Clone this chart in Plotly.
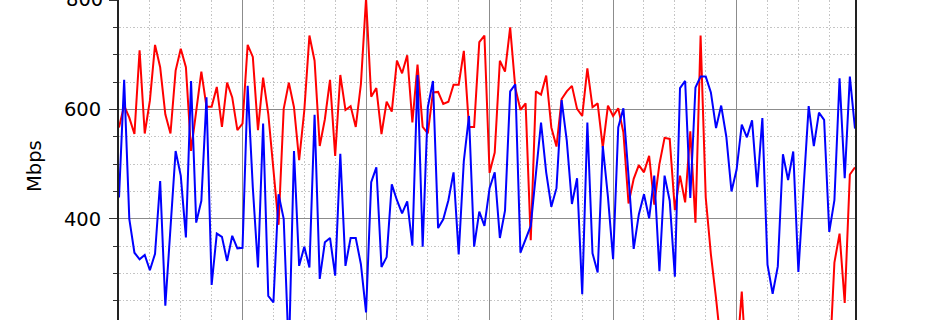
import plotly.graph_objects as go

# Hourly samples (index = hour from start of the window)
hours = list(range(144))

download_red = [
    567, 607, 585, 555, 708, 556, 616, 718, 677, 591, 556, 671, 711, 677, 524, 598, 669, 605, 605, 641, 568, 649, 622, 562,
    574, 718, 696, 562, 658, 592, 492, 389, 601, 649, 604, 507, 598, 735, 689, 533, 582, 654, 515, 663, 599, 606, 568, 646,
    803, 623, 639, 555, 614, 596, 689, 666, 699, 576, 682, 568, 556, 631, 632, 610, 614, 645, 645, 707, 568, 568, 723, 735,
    484, 521, 689, 669, 750, 639, 599, 611, 361, 633, 627, 662, 567, 532, 619, 633, 643, 601, 588, 675, 604, 611, 530, 607,
    588, 602, 558, 428, 473, 498, 485, 515, 426, 500, 548, 546, 416, 479, 430, 560, 393, 735, 439, 335, 255, 165, 140, 130,
    140, 267, 110, 120, 135, 110, 125, 140, 115, 130, 120, 105, 125, 140, 118, 128, 112, 120, 125, 320, 373, 246, 481, 494,
]

upload_blue = [
    439, 654, 400, 338, 326, 334, 306, 336, 469, 241, 383, 524, 479, 366, 652, 393, 433, 622, 279, 373, 367, 323, 369, 346,
    347, 643, 457, 311, 574, 259, 247, 445, 400, 150, 524, 314, 349, 311, 590, 290, 357, 365, 296, 519, 314, 365, 365, 317,
    229, 467, 494, 312, 330, 463, 434, 410, 432, 351, 663, 349, 604, 652, 383, 399, 434, 485, 335, 506, 588, 349, 413, 387,
    456, 485, 365, 415, 633, 646, 338, 363, 387, 482, 576, 485, 422, 456, 617, 543, 427, 474, 262, 576, 337, 302, 533, 440,
    326, 567, 602, 478, 345, 408, 445, 401, 479, 304, 479, 433, 294, 639, 652, 438, 640, 660, 660, 631, 566, 607, 550, 450,
    490, 572, 549, 580, 458, 584, 316, 263, 313, 518, 471, 523, 303, 455, 606, 533, 594, 581, 376, 434, 657, 474, 660, 565,
]

y_tick_values = [400, 600, 800]
y_tick_labels = ["400", "600", "800"]
y_axis_title = "Mbps"

Y_MIN, Y_MAX = 215, 800
FONT = "DejaVu Sans"
DOT = "1.5px,2px"

fig = go.Figure()
fig.add_trace(go.Scatter(x=hours, y=download_red, mode="lines",
                         line=dict(color="#ff0000", width=2), showlegend=False))
fig.add_trace(go.Scatter(x=hours, y=upload_blue, mode="lines",
                         line=dict(color="#0000ff", width=2), showlegend=False))

annotations = [dict(
    text=y_axis_title, textangle=-90, showarrow=False,
    xref="paper", yref="paper", x=0, y=1 - 166 / 320,
    xanchor="center", yanchor="middle", xshift=-85,
    font=dict(family=FONT, size=19.5, color="black"),
)]
# the top tick label sits on the very edge of the plot; Plotly drops it, so draw it as text
for v, lab in zip(y_tick_values, y_tick_labels):
    if v >= Y_MAX:
        annotations.append(dict(
            text=lab, showarrow=False, xref="paper", yref="paper",
            x=0, y=(v - Y_MIN) / (Y_MAX - Y_MIN), xanchor="right", yanchor="middle",
            xshift=-14, yshift=1,
            font=dict(family=FONT, size=19.5, color="black"),
        ))

fig.update_layout(
    width=950, height=320,
    margin=dict(l=119, r=95, t=0, b=0, pad=0),
    paper_bgcolor="white", plot_bgcolor="white",
    font=dict(family=FONT, size=19.5, color="black"),
    xaxis=dict(
        range=[0, hours[-1]], tick0=0, dtick=24,
        showticklabels=False, ticks="", showline=False, zeroline=False,
        showgrid=True, gridcolor="#8c8c8c", gridwidth=1.3,
        minor=dict(dtick=6, tick0=0, showgrid=True, gridcolor="#c4c4c4",
                   griddash=DOT, gridwidth=1, ticks=""),
    ),
    yaxis=dict(
        range=[Y_MIN, Y_MAX], tickvals=y_tick_values, ticktext=y_tick_labels,
        ticks="outside", ticklen=8, tickwidth=1.4, tickcolor="#333333",
        ticklabelstandoff=4,
        showline=True, linecolor="#222222", linewidth=1.8, mirror=True,
        zeroline=False,
        showgrid=True, gridcolor="#8c8c8c", gridwidth=1.3,
        minor=dict(dtick=50, tick0=0, showgrid=True, gridcolor="#c4c4c4",
                   griddash=DOT, gridwidth=1, ticks="outside", ticklen=4,
                   tickwidth=1.2, tickcolor="#333333"),
        tickfont=dict(family=FONT, size=19.5, color="black"),
    ),
    annotations=annotations,
)

fig.write_html("out.html")
